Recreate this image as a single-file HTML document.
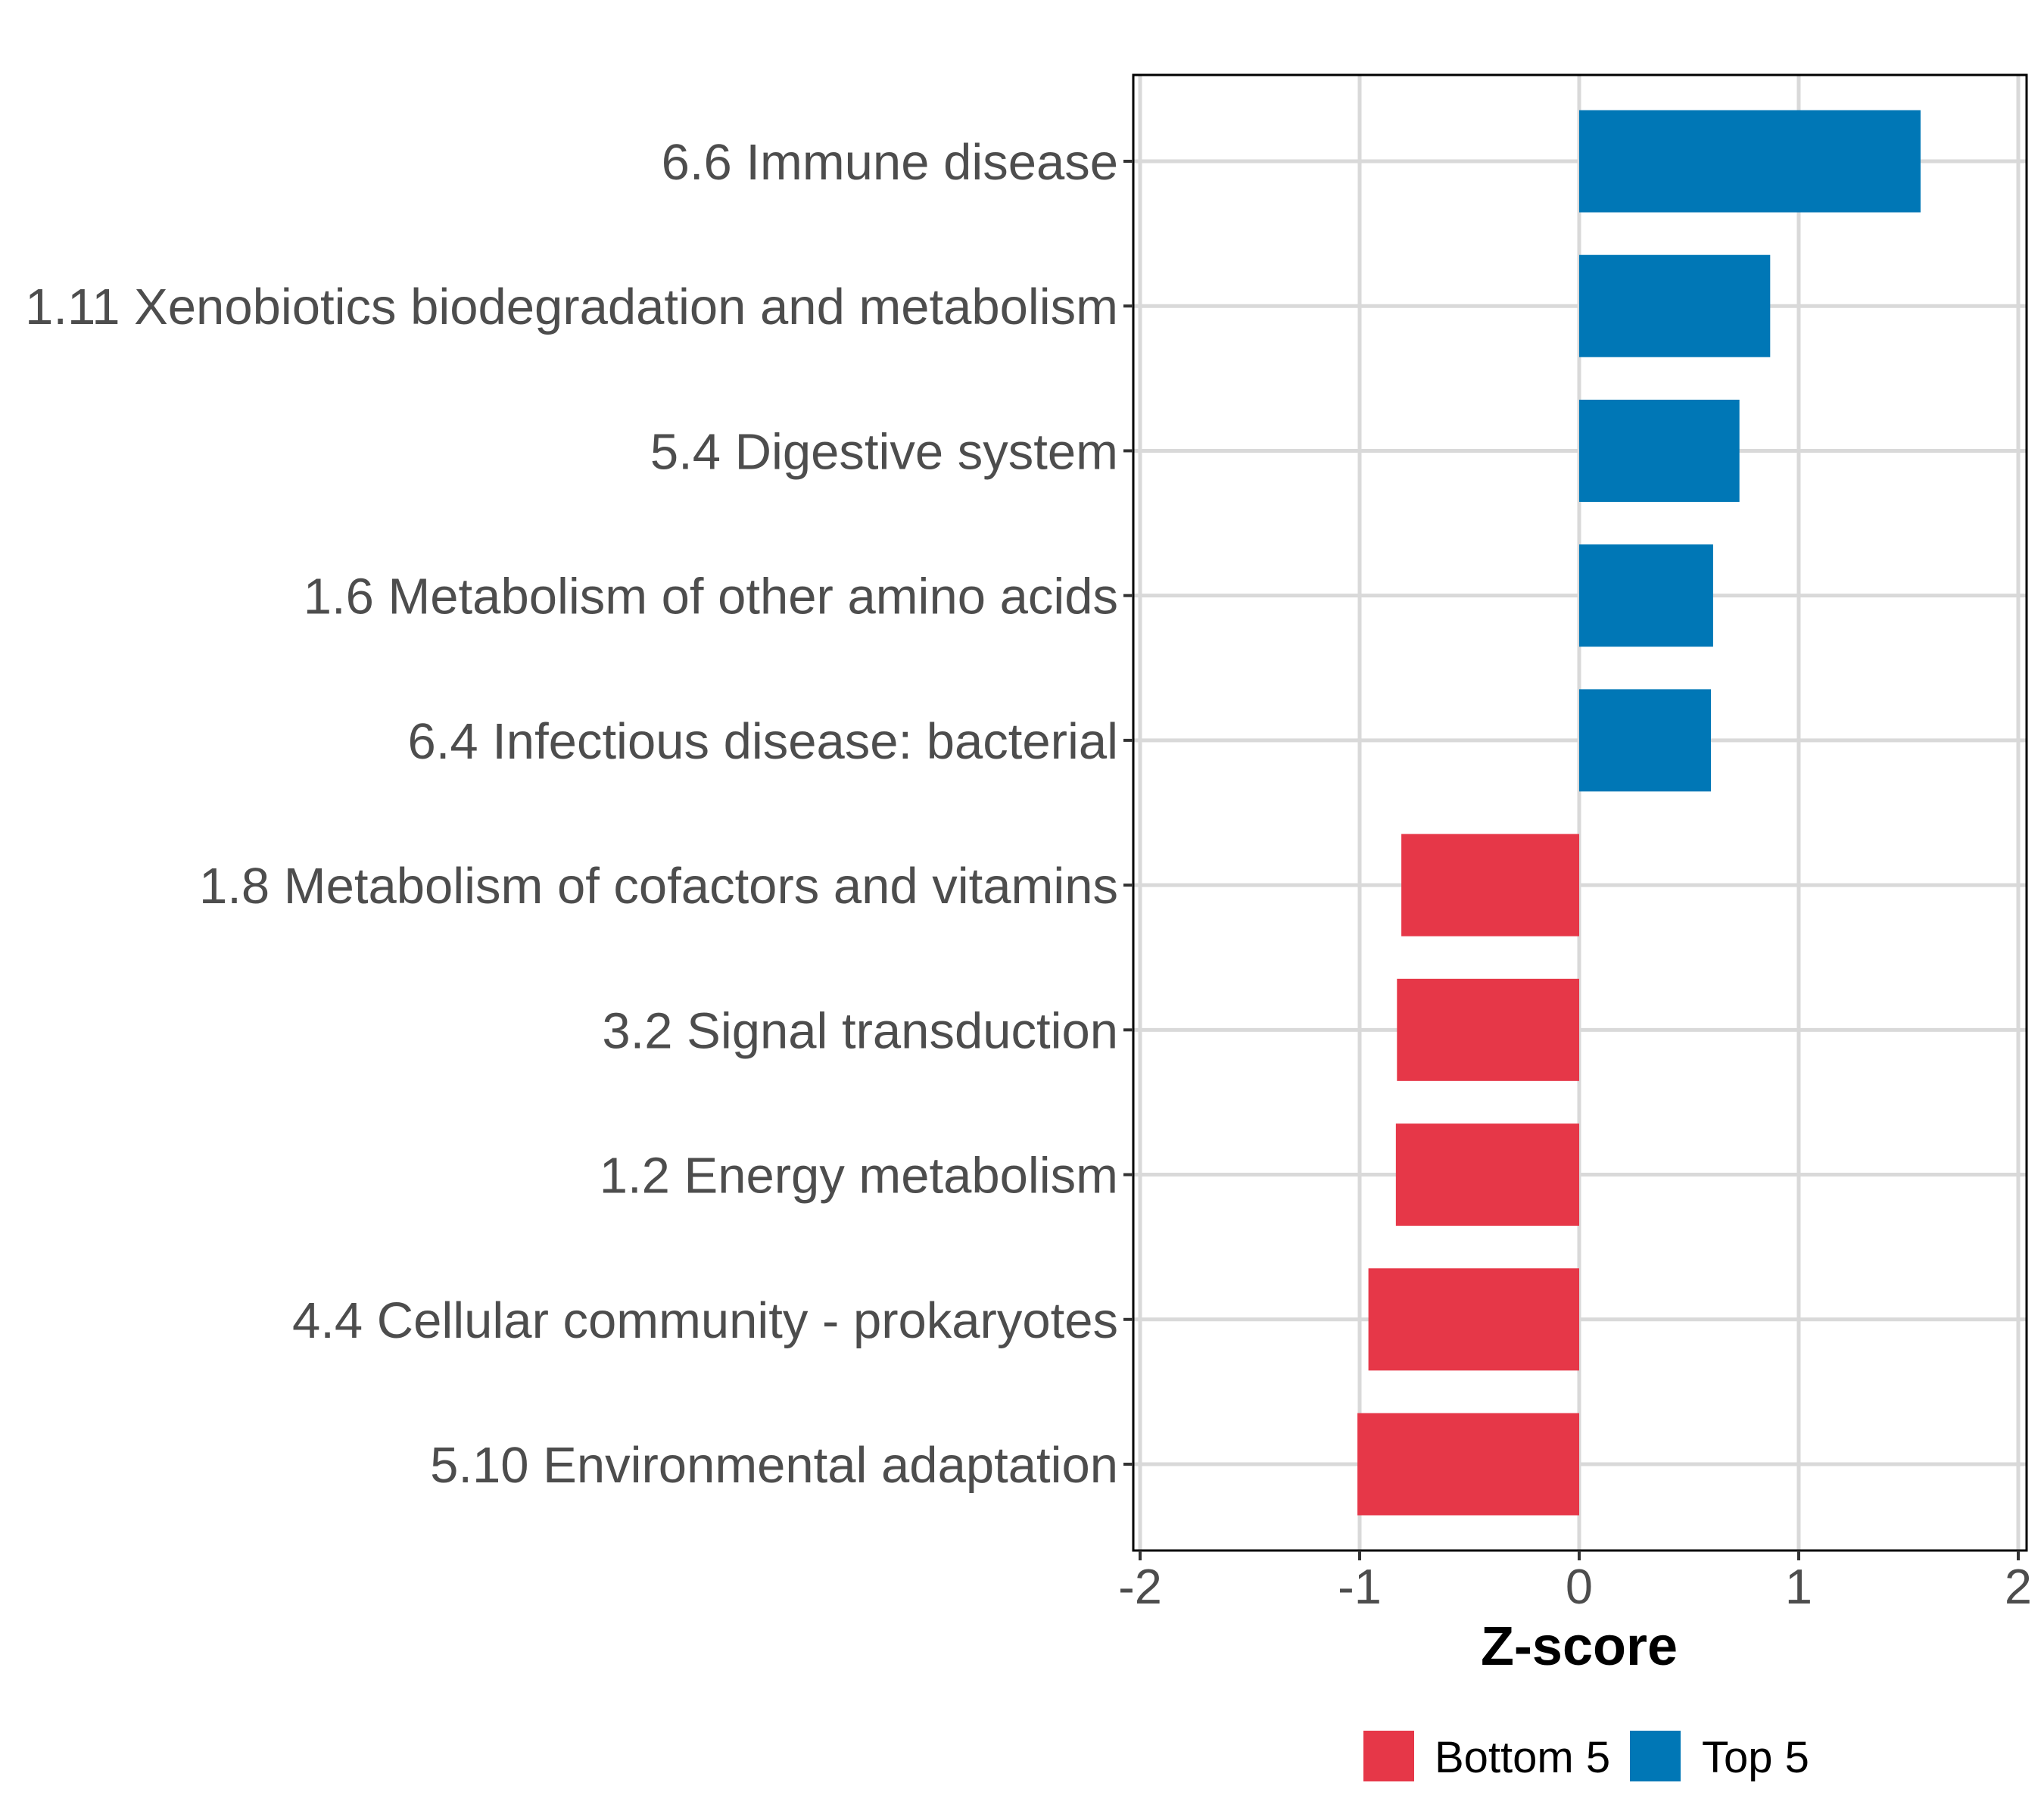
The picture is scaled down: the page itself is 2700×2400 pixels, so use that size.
<!DOCTYPE html>
<html><head><meta charset="utf-8">
<style>
html,body{margin:0;padding:0;background:#fff;}
svg{display:block;}
text{font-family:"Liberation Sans",Arial,sans-serif;}
</style></head>
<body>
<svg id="chart" width="2700" height="2400" viewBox="0 0 2700 2400" xmlns="http://www.w3.org/2000/svg">
<g id="grid"></g>
<g id="bars"></g>
<rect x="1497" y="99" width="1180" height="1949" fill="none" stroke="#000" stroke-width="3"/>
<g id="yaxis"></g>
<g id="xaxis"></g>
<text x="2086" y="2199" font-size="72" font-weight="bold" text-anchor="middle" fill="#000">Z-score</text>
<g>
<rect x="1801" y="2286" width="67" height="67" fill="#E63748"/>
<text x="1895" y="2341" font-size="58" fill="#000">Bottom 5</text>
<rect x="2153" y="2286" width="67" height="67" fill="#0077B6"/>
<text x="2248" y="2341" font-size="58" fill="#000">Top 5</text>
</g>
</svg>
<script>
const categories = ["6.6 Immune disease","1.11 Xenobiotics biodegradation and metabolism","5.4 Digestive system","1.6 Metabolism of other amino acids","6.4 Infectious disease: bacterial","1.8 Metabolism of cofactors and vitamins","3.2 Signal transduction","1.2 Energy metabolism","4.4 Cellular community - prokaryotes","5.10 Environmental adaptation"];
const zscores = [1.555, 0.87, 0.73, 0.61, 0.60, -0.81, -0.83, -0.835, -0.96, -1.01];
const groups = ["Top 5","Top 5","Top 5","Top 5","Top 5","Bottom 5","Bottom 5","Bottom 5","Bottom 5","Bottom 5"];
const xTicks = [-2, -1, 0, 1, 2];
const xTickLabels = ["-2","-1","0","1","2"];

const NS = "http://www.w3.org/2000/svg";
const PL = 1497, PR = 2677, PT = 99, PB = 2048;
const x0px = 2086, unit = 290;
function xScale(v){ return x0px + v*unit; }
const rowTop = 213, rowStep = (1934-213)/9;
function yScale(i){ return rowTop + i*rowStep; }
const barH = 135;
const colors = {"Top 5":"#0077B6","Bottom 5":"#E63748"};
function mk(tag, attrs, parent){
  const el = document.createElementNS(NS, tag);
  for (const k in attrs) el.setAttribute(k, attrs[k]);
  parent.appendChild(el);
  return el;
}
const grid = document.getElementById('grid');
const bars = document.getElementById('bars');
const yaxis = document.getElementById('yaxis');
const xaxis = document.getElementById('xaxis');

xTicks.forEach((t, i) => {
  const x = xScale(t);
  const g = mk('line', {x1:x, x2:x, y1:PT, y2:PB, stroke:'#D9D9D9', 'stroke-width':5}, grid);
  
  
  const tk = mk('line', {x1:x, x2:x, y1:PB, y2:PB+13, stroke:'#333', 'stroke-width':4}, xaxis);
  
  
  const lb = mk('text', {x:x, y:2118, 'font-size':65, 'text-anchor':'middle', fill:'#4D4D4D'}, xaxis);
  lb.textContent = xTickLabels[i];
  
  
});

categories.forEach((c, i) => {
  const y = yScale(i);
  const gl = mk('line', {x1:PL, x2:PR, y1:y, y2:y, stroke:'#D9D9D9', 'stroke-width':5}, grid);
  
  
  const v = zscores[i];
  const xa = xScale(Math.min(0, v)), xb = xScale(Math.max(0, v));
  const r = mk('rect', {x:xa, y:y-barH/2, width:xb-xa, height:barH, fill:colors[groups[i]]}, bars);
  
  
  const tk = mk('line', {x1:PL-13, x2:PL, y1:y, y2:y, stroke:'#333', 'stroke-width':4}, yaxis);
  
  
  const lb = mk('text', {x:1477, y:y+24, 'font-size':67, 'text-anchor':'end', fill:'#4D4D4D'}, yaxis);
  lb.textContent = c;
  
  
});
</script>
</body></html>
